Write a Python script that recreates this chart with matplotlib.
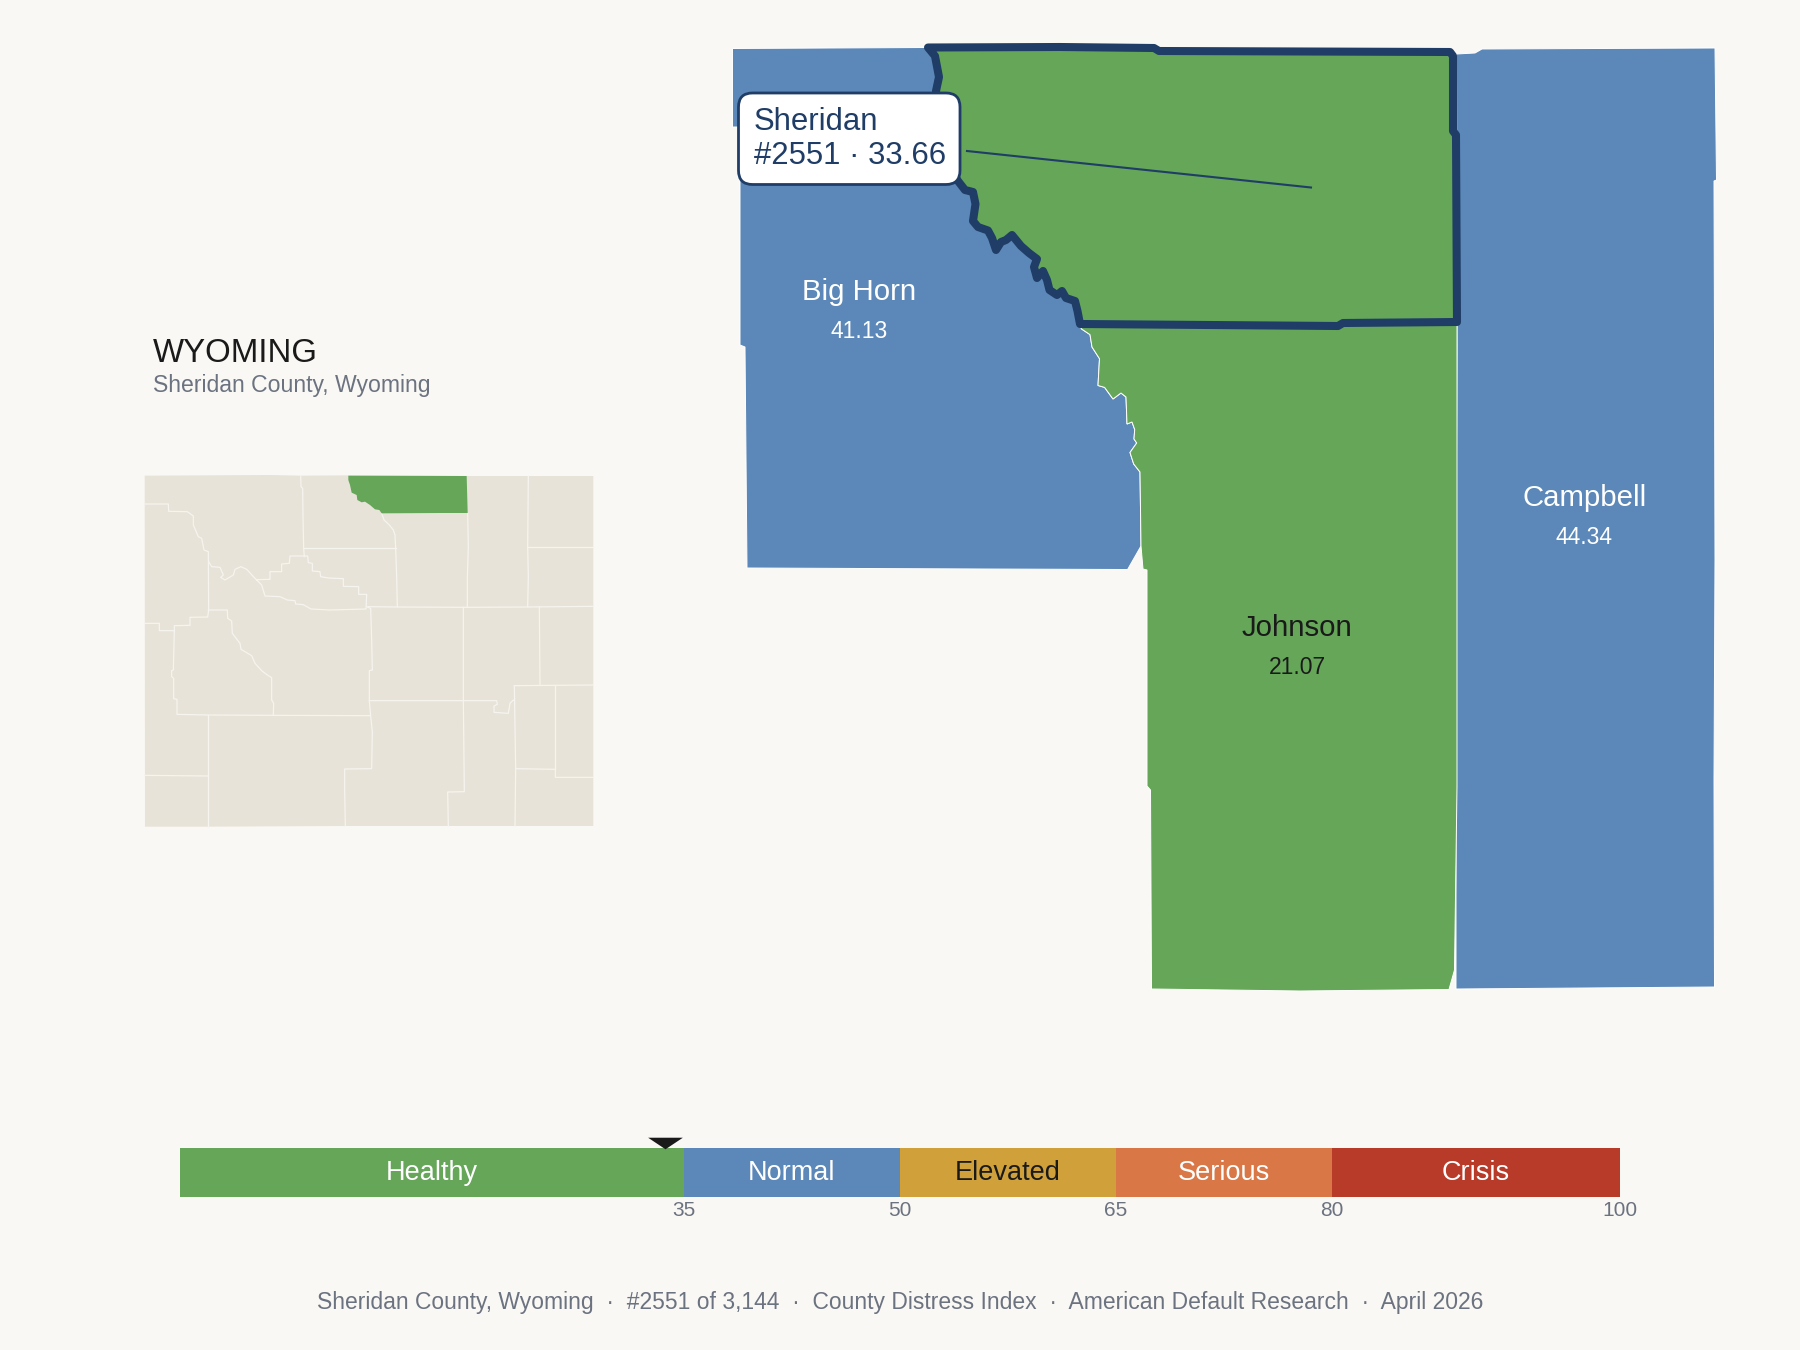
import matplotlib
matplotlib.use('Agg')
import matplotlib.pyplot as plt
from matplotlib.patches import Polygon, FancyBboxPatch

plt.rcParams['font.family'] = ['Liberation Sans', 'DejaVu Sans']

BG = '#faf8f4'
GREEN = '#65a659'
BLUE = '#5b88b8'
NAVY = '#1f3d66'
GRAY = '#6b7280'
INK = '#1a1a1a'
LAND = '#e8e3d8'

# main map outlines
sheridan = [(928, 47.5), (1060, 47), (1154, 48), (1159, 51), (1450, 52), (1453, 56), (1453, 131), (1456, 135),
            (1457, 322), (1343, 323), (1338, 326), (1080, 324), (1077.5, 311), (1075, 301), (1066, 298),
            (1062, 291), (1057, 295), (1049.5, 290), (1047, 280), (1043, 271), (1037, 278), (1034, 267),
            (1037, 259), (1029, 253), (1021, 246), (1012, 235), (1006, 240), (1001, 242), (996, 250),
            (992, 238), (988, 230.5), (978, 227), (973, 221), (975.5, 204), (973, 192), (965, 190),
            (958, 181), (945, 160), (936, 91), (939, 77), (935, 56)]
river = [(1080, 326), (1081.6, 329), (1090, 334.6), (1092, 347), (1099.5, 358.7), (1098, 385.5), (1104.6, 387.4),
         (1113, 399), (1121, 393), (1126, 397), (1127, 424), (1132, 422), (1134.7, 429.5), (1134, 439),
         (1136.7, 443), (1130, 452.5), (1133.7, 464), (1140, 472)]
# big horn runs on under sheridan so no gap shows along the shared edge
big_horn = [(732.5, 48.5), (928, 47.5), (1000, 60), (1090, 300)] + river + \
           [(1141, 546), (1127.6, 569.5), (985, 569), (747, 568), (745, 347), (740, 345), (740, 127), (732.5, 127)]
johnson = [(1080, 324), (1457, 322), (1457, 786), (1454.5, 970), (1449, 989.5), (1300, 991), (1151.5, 989),
           (1150.5, 790), (1147, 786), (1147, 570), (1143, 569), (1141, 546)] + river[::-1]
campbell = [(1456.5, 54), (1475, 53), (1482, 49), (1715, 48), (1716.5, 180), (1714, 181), (1714.5, 345),
            (1715, 560), (1714, 780), (1714.5, 987), (1456, 989), (1456, 568), (1457, 345)]
leader = [(967, 151), (1311, 187.5)]

map_names = ['Big Horn', 'Campbell', 'Johnson']
map_scores = ['41.13', '44.34', '21.07']
map_label_x = [858.7, 1584.5, 1297]
map_label_y = [292, 497.5, 628]

# locator map, in its own units
state = [(44, 47), (420, 45), (512, 47), (655, 46), (1010, 48), (1195, 48), (1390, 48), (1390, 1098), (1155, 1098),
         (955, 1098), (646, 1098), (235, 1100), (45, 1100)]
state_highlight = [(655, 47), (1010, 48), (1013, 159), (935, 159), (755, 160), (748, 150), (735, 148), (720, 135),
                   (705, 125), (695, 127), (682, 120), (680, 105), (665, 98), (660, 75), (655, 60)]
county_lines = [
    [(512, 47), (513, 80), (518, 85), (519, 170), (521, 265), (523, 290)],
    [(755, 160), (762, 180), (778, 195), (790, 210), (795, 225), (797, 265), (800, 350), (802, 440)],
    [(523, 265), (797, 265)],
    [(1013, 159), (1015, 260), (1012, 355), (1012, 442)],
    [(1195, 48), (1193, 260), (1195, 350), (1193, 440)],
    [(1193, 262), (1390, 262)],
    [(715, 440), (802, 441), (1012, 442), (1193, 441), (1390, 439)],
    [(44, 132), (115, 132), (116, 154), (172, 155), (190, 168), (190, 195), (205, 230), (215, 235), (222, 270),
     (235, 275), (236, 450), (233, 471), (180, 472), (180, 496), (133, 497), (133, 512), (88, 512), (88, 490), (44, 490)],
    [(236, 305), (245, 320), (270, 322), (280, 345), (272, 352), (285, 360), (310, 345), (315, 328), (333, 320),
     (350, 328), (375, 355), (395, 375), (405, 408), (450, 410), (472, 420), (495, 422), (497, 432), (520, 434),
     (543, 447), (600, 450), (708, 447), (710, 403), (686, 403), (686, 380), (640, 379), (640, 356), (595, 354),
     (572, 350), (570, 335), (547, 333), (547, 310), (535, 308), (533, 288), (480, 288), (478, 310), (455, 312),
     (455, 335), (420, 335), (420, 358), (380, 359)],
    [(710, 440), (722, 445), (725, 540), (727, 630), (718, 632), (718, 722), (722, 768), (727, 815), (725, 926),
     (644, 927), (644, 990), (646, 1098)],
    [(1000, 442), (1000, 722), (1003, 995), (953, 996), (955, 1098)],
    [(718, 722), (1100, 722), (1102, 733), (1092, 738), (1092, 757), (1135, 760), (1140, 730), (1150, 720), (1153, 722)],
    [(1228, 440), (1230, 676)],
    [(1153, 677), (1390, 675)],
    [(1153, 677), (1157, 926), (1155, 1098)],
    [(1157, 926), (1276, 928), (1276, 952), (1390, 952)],
    [(1276, 677), (1276, 928)],
    [(133, 512), (130, 630), (125, 632), (125, 650), (131, 655), (131, 716), (141, 718), (141, 763), (235, 765),
     (430, 766), (720, 767)],
    [(235, 765), (235, 1100)],
    [(44, 946), (235, 948)],
    [(235, 450), (292, 450), (293, 475), (305, 483), (307, 520), (330, 550), (333, 568), (365, 587), (375, 610),
     (395, 632), (412, 645), (425, 653), (425, 720), (431, 730), (430, 766)],
]

# scale bar
band_names = ['Healthy', 'Normal', 'Elevated', 'Serious', 'Crisis']
band_start = [0, 35, 50, 65, 80]
band_end = [35, 50, 65, 80, 100]
band_colors = [GREEN, BLUE, '#d0a13a', '#d97746', '#b83a28']
band_text = ['white', 'white', INK, 'white', 'white']
scale_ticks = [35, 50, 65, 80, 100]
county_score = 33.66
county_rank = 2551

title = 'WYOMING'
subtitle = 'Sheridan County, Wyoming'
footer = 'Sheridan County, Wyoming  \u00b7  #2551 of 3,144  \u00b7  County Distress Index  \u00b7  American Default Research  \u00b7  April 2026'

W, H = 1800, 1350
fig = plt.figure(figsize=(W / 100, H / 100), dpi=100, facecolor=BG)

# main map, axes units are picture pixels
ax = fig.add_axes([0, 0, 1, 1])
ax.set_xlim(0, W)
ax.set_ylim(H, 0)
ax.axis('off')

ax.add_patch(Polygon(big_horn, closed=True, fc=BLUE, ec='white', lw=0.7, zorder=2))
ax.add_patch(Polygon(campbell, closed=True, fc=BLUE, ec='white', lw=0.7, zorder=2))
ax.add_patch(Polygon(johnson, closed=True, fc=GREEN, ec='white', lw=0.7, zorder=2))
ax.add_patch(Polygon(sheridan, closed=True, fc=GREEN, ec=NAVY, lw=5.8, joinstyle='round', zorder=3))

for name, score, x, y in zip(map_names, map_scores, map_label_x, map_label_y):
    col = INK if name == 'Johnson' else 'white'
    ax.text(x, y, name, color=col, fontsize=21.2, ha='center', va='center', zorder=4)
    ax.text(x, y + 39.5, score, color=col, fontsize=16.5, ha='center', va='center', zorder=4)

ax.plot([p[0] for p in leader], [p[1] for p in leader], color=NAVY, lw=1.5, zorder=5)
ax.add_patch(FancyBboxPatch((738.5, 93), 221.5, 91.5, boxstyle='round,pad=0,rounding_size=14',
                            fc='white', ec=NAVY, lw=2, zorder=6))
ax.text(754, 122, 'Sheridan', color=NAVY, fontsize=22.4, ha='left', va='center', zorder=7)
ax.text(754, 156, f'#{county_rank} \u00b7 {county_score}', color=NAVY, fontsize=22.4, ha='left', va='center', zorder=7)

ax.text(153, 353, title, color=INK, fontsize=23.8, ha='left', va='center')
ax.text(153, 385.5, subtitle, color=GRAY, fontsize=16.6, ha='left', va='center')
ax.text(900, 1302, footer, color=GRAY, fontsize=16.5, ha='center', va='center')

# locator
loc = fig.add_axes([130 / W, 1 - 840 / H, 480 / W, 380 / H])
loc.set_xlim(0, 1440)
loc.set_ylim(1140, 0)
loc.axis('off')
loc.add_patch(Polygon(state, closed=True, fc=LAND, ec='none'))
for line in county_lines:
    loc.plot([p[0] for p in line], [p[1] for p in line], color='#f6f4ef', lw=0.9, zorder=2)
loc.add_patch(Polygon(state_highlight, closed=True, fc=GREEN, ec='none', zorder=3))

# scale bar
bar = fig.add_axes([180 / W, 1 - 1197 / H, 1440 / W, 49 / H])
bar.set_xlim(0, 100)
bar.set_ylim(0, 1)
bar.barh([0.5] * 5, [e - s for s, e in zip(band_start, band_end)], left=band_start, height=1, color=band_colors)
for name, s, e, col in zip(band_names, band_start, band_end, band_text):
    bar.text((s + e) / 2, 0.5, name, color=col, fontsize=19.5, ha='center', va='center')
bar.set_xticks(scale_ticks)
bar.set_xticklabels([str(t) for t in scale_ticks], fontsize=15, color=GRAY)
bar.tick_params(axis='x', length=0, pad=3)
bar.set_yticks([])
for s in bar.spines.values():
    s.set_visible(False)
bar.plot([county_score], [1.112], marker=[(-3, 1), (3, 1), (0, -1)], ms=25, color=INK, mew=0, clip_on=False)

fig.savefig('out.png', dpi=100, facecolor=BG)
